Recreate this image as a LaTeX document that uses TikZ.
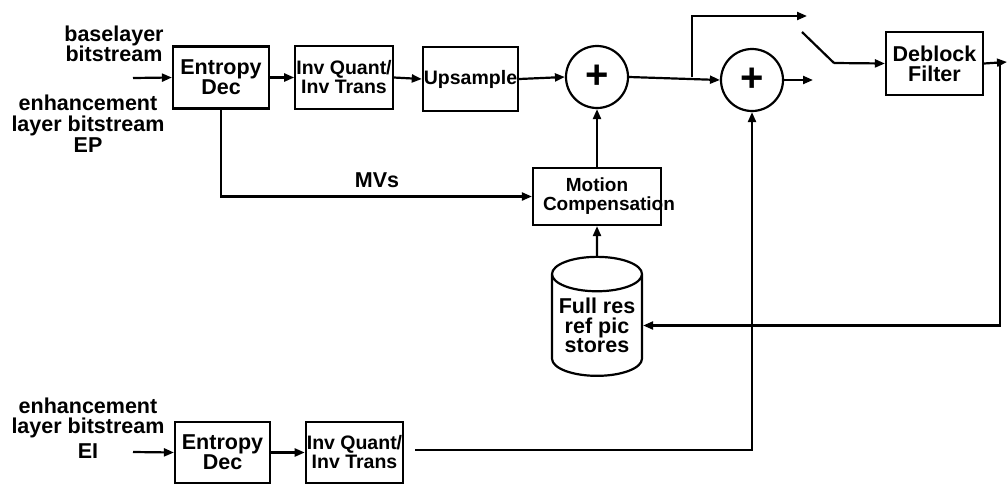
\documentclass[tikz,border=0pt]{standalone}
\usepackage{fontspec}
\setmainfont{Liberation Sans}
\usetikzlibrary{arrows.meta,positioning,shapes.geometric}
\tikzset{
  blk/.style={draw, line width=2.2pt, minimum width=96pt, minimum height=62pt,
    inner sep=1pt, align=center, font=\bfseries\fontsize{21.5}{20}\selectfont},
  smallblk/.style={blk, font=\bfseries\fontsize{19.5}{19}\selectfont},
  sumnode/.style={draw, circle, line width=2.2pt, minimum size=62pt, inner sep=0pt,
    font=\bfseries\fontsize{40}{40}\selectfont},
  picstore/.style={draw, cylinder, shape border rotate=90, aspect=0.45,
    line width=2.2pt, minimum width=90pt, minimum height=119pt, inner sep=0pt,
    align=center, font=\bfseries\fontsize{21.5}{19.5}\selectfont},
  lbl/.style={align=center, font=\bfseries\fontsize{21.5}{20.5}\selectfont},
  wire/.style={line width=2.2pt},
  flow/.style={wire, -{Triangle[length=10pt,width=8pt]}},
}
\begin{document}
\begin{tikzpicture}[x=1pt,y=-1pt]
  \useasboundingbox (0,0) rectangle (1007,485);
  % base / EP path
  \node[blk] (ed1) at (221,77.5) {Entropy\\Dec};
  \node[smallblk, minimum height=63pt] (iq1) at (344,77.5) {Inv Quant/\\Inv Trans};
  \node[smallblk, minimum width=95pt, minimum height=64pt] (up) at (470.5,79) {Upsample};
  \node[sumnode] (sum1) at (597,77) {+};
  \node[sumnode] (sum2) at (752,80) {+};
  \node[blk, minimum width=97pt, minimum height=63pt] (db) at (934.5,63.5) {Deblock\\Filter};
  \node[smallblk, text width=108pt, inner xsep=10pt, minimum height=57pt,
        font=\bfseries\fontsize{19}{19}\selectfont] (mc) at (597,196.5) {Motion\\Compensation};
  \node[picstore] (store) at (597,325.5) {Full res\\ref pic\\stores};
  % EI path
  \node[blk, minimum width=95pt, minimum height=61pt] (ed2) at (222.5,452.5) {Entropy\\Dec};
  \node[smallblk, minimum width=95pt, minimum height=61pt] (iq2) at (354.5,452.5) {Inv Quant/\\Inv Trans};
  % input labels
  \node[lbl] (inbase) at (114,44) {baselayer\\bitstream};
  \node[lbl] (inep) at (88,124) {enhancement\\layer bitstream\\[1pt]EP};
  \node[lbl] (inei) at (88,428) {enhancement\\layer bitstream\\[4pt]EI};
  \node[lbl] (mvs) at (377,180) {MVs};
  % free ends
  \coordinate (epin) at (133,78);
  \coordinate (eiin) at (133,452);
  \coordinate (eiout) at (415,450);
  \coordinate (tap) at (692,77);
  \coordinate (bypass) at (807,16);
  \coordinate (sumout) at (813,80);
  \coordinate (swa) at (802,32);
  \coordinate (swb) at (834,63);
  \coordinate (dbout) at (1007,62);
  \coordinate (fbtap) at (1000,62);
  % forward chain
  \draw[flow] (epin) -- (ed1.west);
  \foreach \a/\b in {ed1/iq1, iq1/up, up/sum1, sum1/sum2}
    \draw[flow] (\a.east) -- (\b.west);
  \draw[flow] (sum2.east) -- (sumout);
  \draw[flow] (tap) |- (bypass);
  % switch
  \draw[wire] (swa) -- (swb);
  \draw[flow] (swb) -- (db.west);
  \draw[flow] (db.east) -- (dbout);
  % motion compensation loop
  \draw[flow] (ed1.south) |- (mc.west);
  \draw[flow] (mc.north) -- (sum1.south);
  \draw[flow] (store.north) -- (mc.south);
  \draw[flow] (fbtap) |- (store.east);
  % EI residual
  \draw[flow] (eiin) -- (ed2.west);
  \draw[flow] (ed2.east) -- (iq2.west);
  \draw[flow] (eiout) -| (sum2.south);
\end{tikzpicture}
\end{document}
